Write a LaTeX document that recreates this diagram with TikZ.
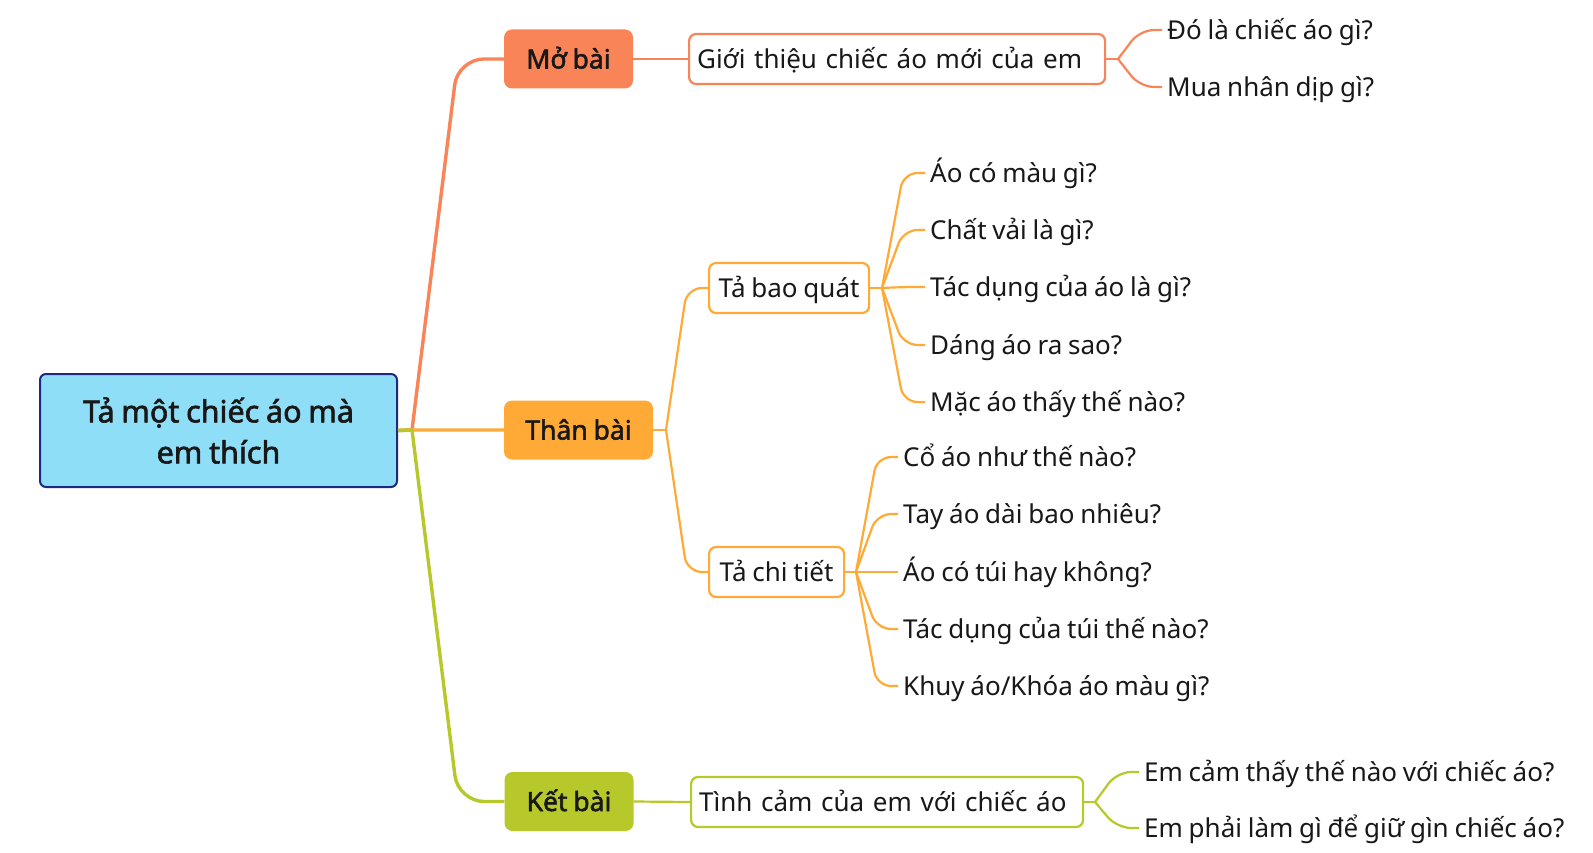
\documentclass[tikz,border=0pt]{standalone}
\usepackage{fontspec}
\setmainfont{Noto Sans}[AutoFakeBold=2,WordSpace=0.85]
\usetikzlibrary{calc}
\definecolor{coral}{RGB}{249,132,87}
\definecolor{orng}{RGB}{255,170,55}
\definecolor{lime}{RGB}{183,200,43}
\definecolor{rootfill}{RGB}{143,222,248}
\definecolor{rootdraw}{RGB}{30,42,128}
\definecolor{txt}{RGB}{24,24,24}
\newcommand\mmbranch[4]{\draw[#1,rounded corners=#4] let \p1=(#2),\p2=(#3) in (\p1) -- ({0.5*\x1+0.5*\x2},\y2) -- (\p2);}
\begin{document}
\begin{tikzpicture}[x=1pt,y=-1pt,
  normalfont/.style={font=\fontsize{26}{31}\selectfont},
  leaf/.style={normalfont, anchor=west, inner xsep=5pt, inner ysep=0pt, text height=25pt, text depth=6pt, text=txt},
  subbox/.style={normalfont, anchor=west, draw=#1, fill=white, line width=2.2pt, rounded corners=7pt, minimum height=50pt, inner xsep=8pt, inner ysep=0pt, text height=25pt, text depth=6pt, align=left, text=txt},
  mainbox/.style={fill=#1, rounded corners=8pt, minimum height=59pt, inner sep=0pt, text height=25pt, text depth=6pt, font=\fontsize{26.5}{30}\selectfont\bfseries, text=txt},
  rootbox/.style={fill=rootfill, draw=rootdraw, line width=2pt, rounded corners=6pt, minimum width=357pt, minimum height=113pt, align=center, font=\fontsize{30.5}{41}\selectfont\bfseries, text=txt},
  mainline/.style={draw=#1, line width=3.4pt},
  subline/.style={draw=#1, line width=2.2pt}]
\useasboundingbox (0,0) rectangle (1593,853);
% root and main boxes
\node[rootbox] (root) at (218.5,430.5) {Tả một chiếc áo mà\\em thích};
\node[mainbox=coral, minimum width=129pt] (mo) at (568.5,59) {Mở bài};
\node[mainbox=orng, minimum width=149pt] (than) at (578.5,430) {Thân bài};
\node[mainbox=lime, minimum width=129pt] (ket) at (569,801.5) {Kết bài};
% sub boxes
\node[subbox=coral, minimum width=416pt, text width=400pt] (gioi) at (688,59) {Giới thiệu chiếc áo mới của em};
\node[subbox=orng, minimum width=160pt] (bq) at (708,288) {Tả bao quát};
\node[subbox=orng, minimum width=135pt] (ct) at (708,572) {Tả chi tiết};
\node[subbox=lime, minimum width=392pt, text width=376pt] (tc) at (690,802) {Tình cảm của em với chiếc áo};
% leaves
\node[leaf] (m1) at (1162,30) {Đó là chiếc áo gì?};
\node[leaf] (m2) at (1162,87) {Mua nhân dịp gì?};
\node[leaf] (b1) at (925,173) {Áo có màu gì?};
\node[leaf] (b2) at (925,230) {Chất vải là gì?};
\node[leaf] (b3) at (925,287) {Tác dụng của áo là gì?};
\node[leaf] (b4) at (925,345) {Dáng áo ra sao?};
\node[leaf] (b5) at (925,402) {Mặc áo thấy thế nào?};
\node[leaf] (c1) at (898,457) {Cổ áo như thế nào?};
\node[leaf] (c2) at (898,514) {Tay áo dài bao nhiêu?};
\node[leaf] (c3) at (898,572) {Áo có túi hay không?};
\node[leaf] (c4) at (898,629) {Tác dụng của túi thế nào?};
\node[leaf] (c5) at (898,686) {Khuy áo/Khóa áo màu gì?};
\node[leaf] (k1) at (1139,772) {Em cảm thấy thế nào với chiếc áo?};
\node[leaf] (k2) at (1139,828) {Em phải làm gì để giữ gìn chiếc áo?};
% junctions
\coordinate (J0) at (412,430);
\coordinate (Jg) at (1118,59);
\coordinate (Jt) at (666,430);
\coordinate (Jb) at (882,288);
\coordinate (Jc) at (856,572);
\coordinate (Jk) at (1095,802);
% main branches
\draw[mainline=coral] (root.east) -- (J0);
\mmbranch{mainline=coral}{J0}{mo.west}{26}
\draw[mainline=orng] (root.east) -- (J0) -- (than.west);
\draw[mainline=lime] (root.east) -- (J0);
\mmbranch{mainline=lime}{J0}{ket.west}{26}
% Mo bai
\draw[subline=coral] (mo.east) -- (gioi.west);
\draw[subline=coral] (gioi.east) -- (Jg);
\mmbranch{subline=coral}{Jg}{m1.west}{14}
\mmbranch{subline=coral}{Jg}{m2.west}{14}
% Than bai
\draw[subline=orng] (than.east) -- (Jt);
\mmbranch{subline=orng}{Jt}{bq.west}{15}
\mmbranch{subline=orng}{Jt}{ct.west}{15}
\draw[subline=orng] (bq.east) -- (Jb);
\mmbranch{subline=orng}{Jb}{b1.west}{14}
\mmbranch{subline=orng}{Jb}{b2.west}{14}
\mmbranch{subline=orng}{Jb}{b3.west}{14}
\mmbranch{subline=orng}{Jb}{b4.west}{14}
\mmbranch{subline=orng}{Jb}{b5.west}{14}
\draw[subline=orng] (ct.east) -- (Jc);
\mmbranch{subline=orng}{Jc}{c1.west}{14}
\mmbranch{subline=orng}{Jc}{c2.west}{14}
\mmbranch{subline=orng}{Jc}{c3.west}{14}
\mmbranch{subline=orng}{Jc}{c4.west}{14}
\mmbranch{subline=orng}{Jc}{c5.west}{14}
% Ket bai
\draw[subline=lime] (ket.east) -- (tc.west);
\draw[subline=lime] (tc.east) -- (Jk);
\mmbranch{subline=lime}{Jk}{k1.west}{14}
\mmbranch{subline=lime}{Jk}{k2.west}{14}
\end{tikzpicture}
\end{document}
